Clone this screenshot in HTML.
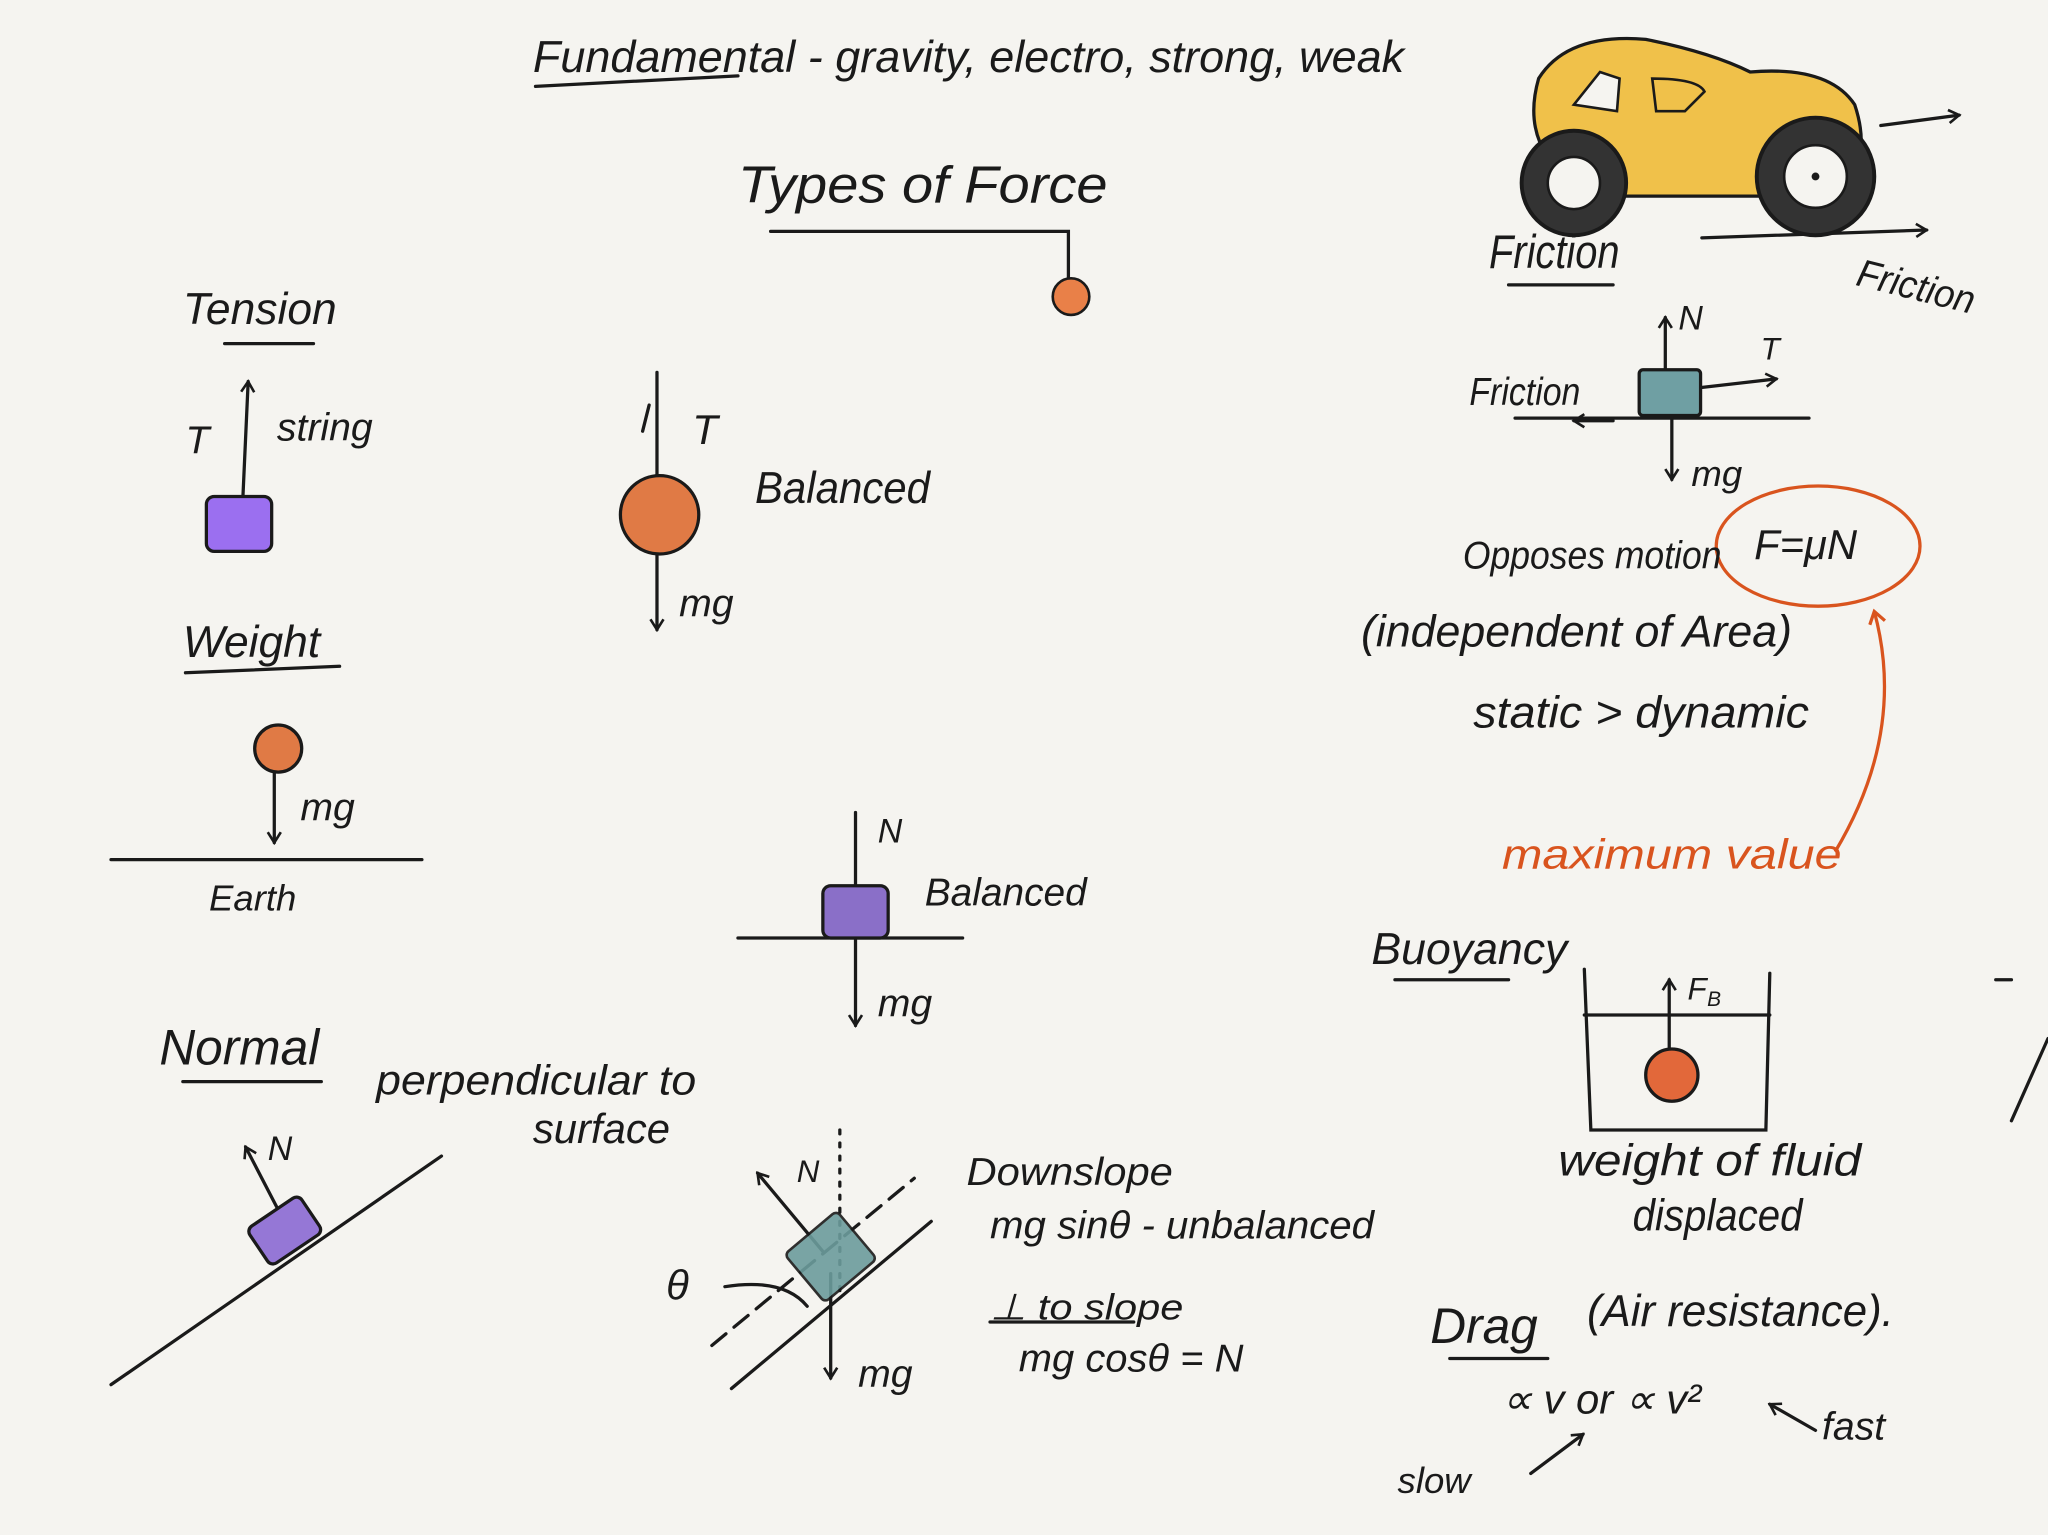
<!DOCTYPE html>
<html><head><meta charset="utf-8"><style>
html,body{margin:0;padding:0;background:#f5f4f0;}
svg{display:block}
text{font-family:"Liberation Sans",sans-serif;fill:#1a1a1a;font-style:italic}
.o{fill:#d9541e}
</style></head><body>
<svg width="2048" height="1535" viewBox="0 0 1568 1175" xmlns="http://www.w3.org/2000/svg">
<rect width="1568" height="1175" fill="#f5f4f0"/>
<defs>
<marker id="a" markerWidth="12" markerHeight="12" refX="9" refY="6" orient="auto" markerUnits="userSpaceOnUse"><path d="M1,1 L9,6 L1,11" fill="none" stroke="#1a1a1a" stroke-width="2"/></marker>
<marker id="ao" markerWidth="14" markerHeight="14" refX="10" refY="7" orient="auto" markerUnits="userSpaceOnUse"><path d="M1,1 L10,7 L1,13" fill="none" stroke="#d9541e" stroke-width="2.5"/></marker>
</defs>
<g stroke="#1a1a1a" stroke-width="2.5" fill="none" stroke-linecap="round">
<path d="M410,66 L565,58"/>
<path d="M590,177 L818,177 L818,213"/>
<path d="M172,263 L240,263"/>
<path d="M186,380 L190,292" marker-end="url(#a)"/>
<path d="M142,515 L260,510"/>
<path d="M210,591 L210,645" marker-end="url(#a)"/>
<path d="M85,658 L323,658"/>
<path d="M503,285 L503,482" marker-end="url(#a)"/>
<path d="M492,330 L497,310" />
<path d="M655,622 L655,785" marker-end="url(#a)"/>
<path d="M565,718 L737,718"/>
<path d="M140,828 L246,828"/>
<path d="M85,1060 L338,885"/>
<path d="M215,930 L188,878" marker-end="url(#a)"/>
<path d="M560,1063 L713,935"/>
<path d="M545,1030 L700,902" stroke-dasharray="14,8"/>
<path d="M643,865 L643,995" stroke-dasharray="3,7"/>
<path d="M630,958 L580,898" marker-end="url(#a)"/>
<path d="M636,975 L636,1055" marker-end="url(#a)"/>
<path d="M555,985 Q600,978 618,1000"/>
<path d="M758,1012 L868,1012"/>
<path d="M1155,218 L1235,218"/>
<path d="M1303,182 L1475,176" marker-end="url(#a)"/>
<path d="M1440,96 L1500,88" marker-end="url(#a)"/>
<path d="M1160,320 L1385,320"/>
<path d="M1275,300 L1275,243" marker-end="url(#a)"/>
<path d="M1290,298 L1360,290" marker-end="url(#a)"/>
<path d="M1280,320 L1280,367" marker-end="url(#a)"/>
<path d="M1235,322 L1205,322" marker-end="url(#a)"/>
<path d="M1068,750 L1155,750"/>
<path d="M1213,742 L1218,865 L1352,865 L1355,745"/>
<path d="M1213,777 L1355,777"/>
<path d="M1278,802 L1278,750" marker-end="url(#a)"/>
<path d="M1110,1040 L1185,1040"/>
<path d="M1172,1128 L1212,1098" marker-end="url(#a)"/>
<path d="M1390,1095 L1355,1075" marker-end="url(#a)"/>
<path d="M1528,750 L1540,750"/>
<path d="M1540,858 L1568,795"/>
</g>
<circle cx="820" cy="227" r="14" fill="#e98048" stroke="#1a1a1a" stroke-width="2"/>
<rect x="158" y="380" width="50" height="42" rx="6" fill="#9b6ff0" stroke="#1a1a1a" stroke-width="2.5"/>
<circle cx="213" cy="573" r="18" fill="#e07a45" stroke="#1a1a1a" stroke-width="2.5"/>
<circle cx="505" cy="394" r="30" fill="#e07a45" stroke="#1a1a1a" stroke-width="2.5"/>
<rect x="630" y="678" width="50" height="40" rx="6" fill="#8a6fc8" stroke="#1a1a1a" stroke-width="2.5"/>
<g transform="rotate(-34 218 942)"><rect x="194" y="925" width="48" height="34" rx="5" fill="#9577d6" stroke="#1a1a1a" stroke-width="2.5"/></g>
<g transform="rotate(-40 636 962)"><rect x="610" y="938" width="52" height="48" rx="4" fill="#6c9c9c" stroke="#1a1a1a" stroke-width="2" opacity=".9"/></g>
<rect x="1255" y="283" width="47" height="35" rx="3" fill="#6f9fa3" stroke="#1a1a1a" stroke-width="2.5"/>
<circle cx="1280" cy="823" r="20" fill="#e2683a" stroke="#1a1a1a" stroke-width="2.5"/>
<path d="M1178,60 Q1200,25 1260,30 Q1310,40 1340,55 Q1400,50 1420,80 Q1430,110 1420,130 L1380,150 L1230,150 L1185,120 Q1168,95 1178,60Z" fill="#f0c14a" stroke="#1a1a1a" stroke-width="2.5"/>
<path d="M1205,80 L1225,55 L1240,60 L1238,85Z" fill="#f5f4f0" stroke="#1a1a1a" stroke-width="2"/>
<path d="M1265,60 Q1300,60 1305,70 L1290,85 L1268,85Z" fill="none" stroke="#1a1a1a" stroke-width="2"/>
<circle cx="1205" cy="140" r="40" fill="#333" stroke="#1a1a1a" stroke-width="3"/>
<circle cx="1205" cy="140" r="20" fill="#f5f4f0" stroke="#1a1a1a" stroke-width="2"/>
<circle cx="1390" cy="135" r="45" fill="#333" stroke="#1a1a1a" stroke-width="3"/>
<circle cx="1390" cy="135" r="24" fill="#f5f4f0" stroke="#1a1a1a" stroke-width="2"/>
<circle cx="1390" cy="135" r="3" fill="#1a1a1a"/>
<ellipse cx="1392" cy="418" rx="78" ry="46" fill="none" stroke="#d9541e" stroke-width="2.5"/>
<path d="M1405,652 Q1460,560 1435,468" fill="none" stroke="#d9541e" stroke-width="2.5" marker-end="url(#ao)"/>
<text x="408" y="55" font-size="34" textLength="667" lengthAdjust="spacingAndGlyphs">Fundamental - gravity, electro, strong, weak</text>
<text x="565" y="155" font-size="40" textLength="283" lengthAdjust="spacingAndGlyphs">Types of Force</text>
<text x="140" y="248" font-size="34">Tension</text>
<text x="142" y="347" font-size="30">T</text>
<text x="212" y="337" font-size="30">string</text>
<text x="140" y="503" font-size="34">Weight</text>
<text x="230" y="628" font-size="30">mg</text>
<text x="160" y="697" font-size="28">Earth</text>
<text x="530" y="340" font-size="32">T</text>
<text x="520" y="472" font-size="30">mg</text>
<text x="578" y="385" font-size="34" textLength="134" lengthAdjust="spacingAndGlyphs">Balanced</text>
<text x="672" y="645" font-size="26">N</text>
<text x="708" y="693" font-size="30" textLength="124" lengthAdjust="spacingAndGlyphs">Balanced</text>
<text x="672" y="778" font-size="30">mg</text>
<text x="122" y="815" font-size="38">Normal</text>
<text x="288" y="838" font-size="32" textLength="245" lengthAdjust="spacingAndGlyphs">perpendicular to</text>
<text x="408" y="875" font-size="32" textLength="105" lengthAdjust="spacingAndGlyphs">surface</text>
<text x="205" y="888" font-size="26">N</text>
<text x="610" y="905" font-size="24">N</text>
<text x="510" y="995" font-size="32">θ</text>
<text x="657" y="1062" font-size="30">mg</text>
<text x="740" y="907" font-size="30" textLength="158" lengthAdjust="spacingAndGlyphs">Downslope</text>
<text x="758" y="948" font-size="30" textLength="294" lengthAdjust="spacingAndGlyphs">mg sinθ - unbalanced</text>
<text x="758" y="1010" font-size="28" textLength="148" lengthAdjust="spacingAndGlyphs">⊥ to slope</text>
<text x="780" y="1050" font-size="30" textLength="172" lengthAdjust="spacingAndGlyphs">mg cosθ = N</text>
<text x="1140" y="205" font-size="36" textLength="100" lengthAdjust="spacingAndGlyphs">Friction</text>
<text x="1420" y="218" font-size="30" transform="rotate(14 1420 218)" textLength="92" lengthAdjust="spacingAndGlyphs">Friction</text>
<text x="1285" y="252" font-size="26">N</text>
<text x="1348" y="275" font-size="24">T</text>
<text x="1295" y="372" font-size="28">mg</text>
<text x="1125" y="310" font-size="30" textLength="85" lengthAdjust="spacingAndGlyphs">Friction</text>
<text x="1120" y="435" font-size="30" textLength="198" lengthAdjust="spacingAndGlyphs">Opposes motion</text>
<text x="1343" y="428" font-size="32">F=μN</text>
<text x="1042" y="495" font-size="34" textLength="330" lengthAdjust="spacingAndGlyphs">(independent of Area)</text>
<text x="1128" y="557" font-size="34" textLength="257" lengthAdjust="spacingAndGlyphs">static &gt; dynamic</text>
<text x="1150" y="665" font-size="32" class="o" textLength="260" lengthAdjust="spacingAndGlyphs">maximum value</text>
<text x="1050" y="738" font-size="34" textLength="150" lengthAdjust="spacingAndGlyphs">Buoyancy</text>
<text x="1292" y="765" font-size="24">F</text><text x="1307" y="770" font-size="16">B</text>
<text x="1193" y="900" font-size="34" textLength="232" lengthAdjust="spacingAndGlyphs">weight of fluid</text>
<text x="1250" y="942" font-size="34" textLength="130" lengthAdjust="spacingAndGlyphs">displaced</text>
<text x="1095" y="1028" font-size="38">Drag</text>
<text x="1215" y="1015" font-size="34" textLength="235" lengthAdjust="spacingAndGlyphs">(Air resistance).</text>
<text x="1150" y="1082" font-size="32">∝ v or ∝ v²</text>
<text x="1070" y="1143" font-size="28">slow</text>
<text x="1395" y="1102" font-size="30">fast</text>
</svg>
</body></html>
